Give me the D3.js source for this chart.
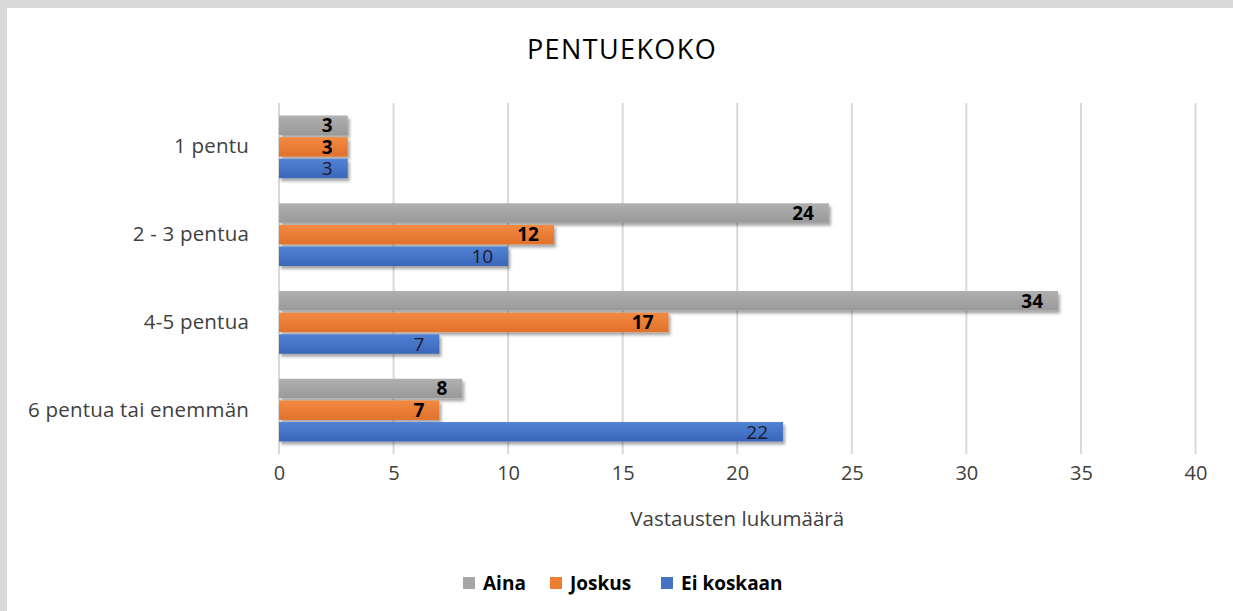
<!DOCTYPE html>
<html>
<head>
<meta charset="utf-8">
<script src="https://cdn.jsdelivr.net/npm/d3@7"></script>
<style>
    body { margin: 0; background: #fff; }
    svg { display: block; font-family: "Open Sans", sans-serif; }
</style>
</head>
<body>
<div id="chart"></div>
<script>
// chart data
const categories = ["1 pentu", "2 - 3 pentua", "4-5 pentua", "6 pentua tai enemmän"];
const seriesNames = ["Aina", "Joskus", "Ei koskaan"];
const aina = [3, 24, 34, 8];
const joskus = [3, 12, 17, 7];
const eiKoskaan = [3, 10, 7, 22];
const xTicks = [0, 5, 10, 15, 20, 25, 30, 35, 40];

const seriesValues = [aina, joskus, eiKoskaan];
const colors = { "Aina": "#a5a5a5", "Joskus": "#ed7d31", "Ei koskaan": "#4472c4" };
const gradTop = { "Aina": "#b0b0b0", "Joskus": "#f28a42", "Ei koskaan": "#5282d4" };
const gradBottom = { "Aina": "#999999", "Joskus": "#e2712a", "Ei koskaan": "#3a66ba" };

const width = 1233, height = 611;
const svg = d3.select("#chart").append("svg")
    .attr("width", width)
    .attr("height", height);

// frame: gray strip at top and left
svg.append("rect").attr("width", width).attr("height", height).attr("fill", "#d9d9d9");
svg.append("rect").attr("x", 7).attr("y", 8).attr("width", width - 7).attr("height", height - 8).attr("fill", "#fff");

const defs = svg.append("defs");
const shadow = defs.append("filter").attr("id", "shadow")
    .attr("x", "-5%").attr("y", "-30%").attr("width", "115%").attr("height", "180%");
shadow.append("feDropShadow")
    .attr("dx", 2).attr("dy", 3).attr("stdDeviation", 1.8)
    .attr("flood-color", "#000").attr("flood-opacity", 0.35);

seriesNames.forEach((s, i) => {
    const g = defs.append("linearGradient").attr("id", "grad" + i)
        .attr("x1", 0).attr("y1", 0).attr("x2", 0).attr("y2", 1);
    g.append("stop").attr("offset", "0%").attr("stop-color", gradTop[s]);
    g.append("stop").attr("offset", "100%").attr("stop-color", gradBottom[s]);
});

const plot = { left: 279, right: 1195.5, top: 103, bottom: 454 };

const x = d3.scaleLinear().domain([0, 40]).range([plot.left, plot.right]);
const y = d3.scaleBand().domain(categories).range([plot.top, plot.bottom]).paddingInner(0.236).paddingOuter(0.118);
const ySub = d3.scaleBand().domain(seriesNames).range([0, y.bandwidth()]).padding(0.1);

// title
svg.append("text")
    .attr("x", 622).attr("y", 59)
    .attr("text-anchor", "middle")
    .attr("font-size", 27)
    .attr("fill", "#000")
    .attr("letter-spacing", 1.4)
    .text("PENTUEKOKO");

// vertical gridlines
svg.append("g")
    .selectAll("line")
    .data(xTicks)
    .join("line")
    .attr("x1", d => x(d)).attr("x2", d => x(d))
    .attr("y1", plot.top).attr("y2", plot.bottom)
    .attr("stroke", "#d9d9d9")
    .attr("stroke-width", 2);

// x axis labels
const xAxis = svg.append("g")
    .attr("transform", `translate(0,${plot.bottom})`)
    .call(d3.axisBottom(x).tickValues(xTicks).tickSize(0).tickPadding(12));
xAxis.select(".domain").remove();
xAxis.selectAll("text")
    .attr("font-family", "Open Sans, sans-serif")
    .attr("font-size", 20)
    .attr("fill", "#404040");

// y axis labels
const yAxis = svg.append("g")
    .attr("transform", `translate(${plot.left},0)`)
    .call(d3.axisLeft(y).tickSize(0).tickPadding(30));
yAxis.select(".domain").remove();
yAxis.selectAll("text")
    .attr("font-family", "Open Sans, sans-serif")
    .attr("font-size", 20.5)
    .attr("letter-spacing", 0.2)
    .attr("fill", "#404040");

// axis title
svg.append("text")
    .attr("x", (plot.left + plot.right) / 2).attr("y", 526)
    .attr("text-anchor", "middle")
    .attr("font-size", 20.5)
    .attr("fill", "#404040")
    .text("Vastausten lukumäärä");

// bars
const rows = [];
categories.forEach((c, ci) => {
    seriesNames.forEach((s, si) => {
        rows.push({ category: c, series: s, si: si, value: seriesValues[si][ci] });
    });
});

const bars = svg.append("g");
bars.selectAll("rect")
    .data(rows)
    .join("rect")
    .attr("x", x(0))
    .attr("y", d => y(d.category) + ySub(d.series))
    .attr("width", d => x(d.value) - x(0))
    .attr("height", ySub.bandwidth())
    .attr("fill", d => `url(#grad${d.si})`)
    .attr("filter", "url(#shadow)");

// data labels, inside end
bars.selectAll("text")
    .data(rows)
    .join("text")
    .attr("x", d => x(d.value) - 15)
    .attr("y", d => y(d.category) + ySub(d.series) + ySub.bandwidth() / 2)
    .attr("dy", "0.36em")
    .attr("text-anchor", "end")
    .attr("font-size", 19)
    .attr("font-weight", d => d.series === "Ei koskaan" ? "normal" : "bold")
    .attr("fill", d => d.series === "Ei koskaan" ? "#1a1a2e" : "#000")
    .text(d => d.value);

// legend
const legendX = [463, 550, 661];
const legend = svg.append("g");
seriesNames.forEach((s, i) => {
    const item = legend.append("g").attr("transform", `translate(${legendX[i]},577)`);
    item.append("rect").attr("width", 12).attr("height", 12).attr("fill", colors[s]);
    item.append("text")
        .attr("x", 20).attr("y", 6).attr("dy", "0.36em")
        .attr("font-size", 19)
        .attr("font-weight", "bold")
        .attr("fill", "#000")
        .text(s);
});
</script>
</body>
</html>
